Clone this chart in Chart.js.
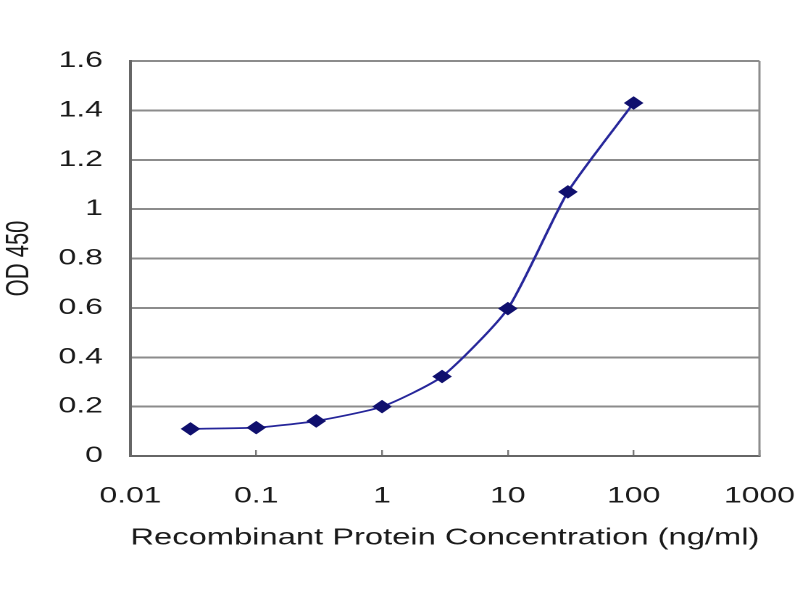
<!DOCTYPE html>
<html lang="en">
<head>
<meta charset="utf-8"/>
<title>OD 450 vs Recombinant Protein Concentration</title>
<style>
  body, html {
    margin: 0;
    padding: 0;
    background: #fff;
    overflow: hidden;
  }
  /* the reference is a horizontally stretched chart, so draw narrow and stretch */
  .wrap {
    width: 552px;
    height: 600px;
    transform: scaleX(1.4493);
    transform-origin: 0 0;
  }
</style>
</head>
<body>
<div class="wrap">
<canvas id="chart" width="552" height="600"></canvas>
</div>
<script src="https://cdn.jsdelivr.net/npm/chart.js"></script>
<script>
  // data
  const concentrations = [0.03, 0.1, 0.3, 1, 3, 10, 30, 100];
  const odValues = [0.11, 0.115, 0.142, 0.2, 0.322, 0.597, 1.07, 1.43];
  const xTickValues = [0.01, 0.1, 1, 10, 100, 1000];
  const yTickValues = [0, 0.2, 0.4, 0.6, 0.8, 1, 1.2, 1.4, 1.6];

  const points = concentrations.map((c, i) => ({ x: c, y: odValues[i] }));

  const font = { family: "'Liberation Sans', Arial, sans-serif", size: 22 };
  const titleFont = { family: "'Liberation Sans', Arial, sans-serif", size: 23 };
  const textColor = '#1a1a1a';

  // right edge of the plot frame
  const frameBorder = {
    id: 'frameBorder',
    beforeDatasetsDraw(chart) {
      const { ctx, chartArea } = chart;
      ctx.save();
      ctx.strokeStyle = '#8c8c8c';
      ctx.lineWidth = 1.5;
      ctx.beginPath();
      ctx.moveTo(chartArea.right, chartArea.top);
      ctx.lineTo(chartArea.right, chartArea.bottom);
      ctx.stroke();
      ctx.restore();
    }
  };

  new Chart(document.getElementById('chart').getContext('2d'), {
    type: 'scatter',
    data: {
      datasets: [{
        data: points,
        showLine: true,
        borderColor: '#26269a',
        borderWidth: 1.8,
        backgroundColor: '#10106e',
        pointBackgroundColor: '#10106e',
        pointBorderColor: '#10106e',
        pointStyle: 'rectRot',
        pointRadius: 5.5,
        tension: 0.2
      }]
    },
    options: {
      responsive: false,
      animation: false,
      devicePixelRatio: 2,
      layout: { padding: { top: 61, right: 0, bottom: 0, left: 0 } },
      plugins: {
        legend: { display: false },
        tooltip: { enabled: false }
      },
      scales: {
        x: {
          type: 'logarithmic',
          min: 0.01,
          max: 1000,
          afterBuildTicks: scale => {
            scale.ticks = xTickValues.map(v => ({ value: v, major: true }));
          },
          afterFit: scale => {
            scale.height = 144;
            scale.paddingLeft = 0;
            scale.paddingRight = 28;
          },
          grid: {
            drawOnChartArea: false,
            color: '#777',
            lineWidth: 1.2,
            tickLength: -6
          },
          border: { color: '#666', width: 2 },
          ticks: {
            color: textColor,
            font: font,
            padding: 33,
            maxRotation: 0,
            autoSkip: false,
            callback: v => String(v)
          },
          title: {
            display: true,
            text: 'Recombinant Protein Concentration (ng/ml)',
            color: textColor,
            font: titleFont,
            padding: { top: 0, bottom: 48 }
          }
        },
        y: {
          min: 0,
          max: 1.6,
          afterBuildTicks: scale => {
            scale.ticks = yTickValues.map(v => ({ value: v }));
          },
          afterFit: scale => { scale.width = 90; },
          grid: {
            color: '#8c8c8c',
            lineWidth: 2,
            drawTicks: false
          },
          border: { color: '#666', width: 2 },
          ticks: {
            color: textColor,
            font: font,
            padding: 19,
            callback: v => String(Math.round(v * 10) / 10)
          },
          title: {
            display: true,
            text: 'OD 450',
            color: textColor,
            font: font,
            padding: { top: 0, bottom: 0 }
          }
        }
      }
    },
    plugins: [frameBorder]
  });
</script>
</body>
</html>
